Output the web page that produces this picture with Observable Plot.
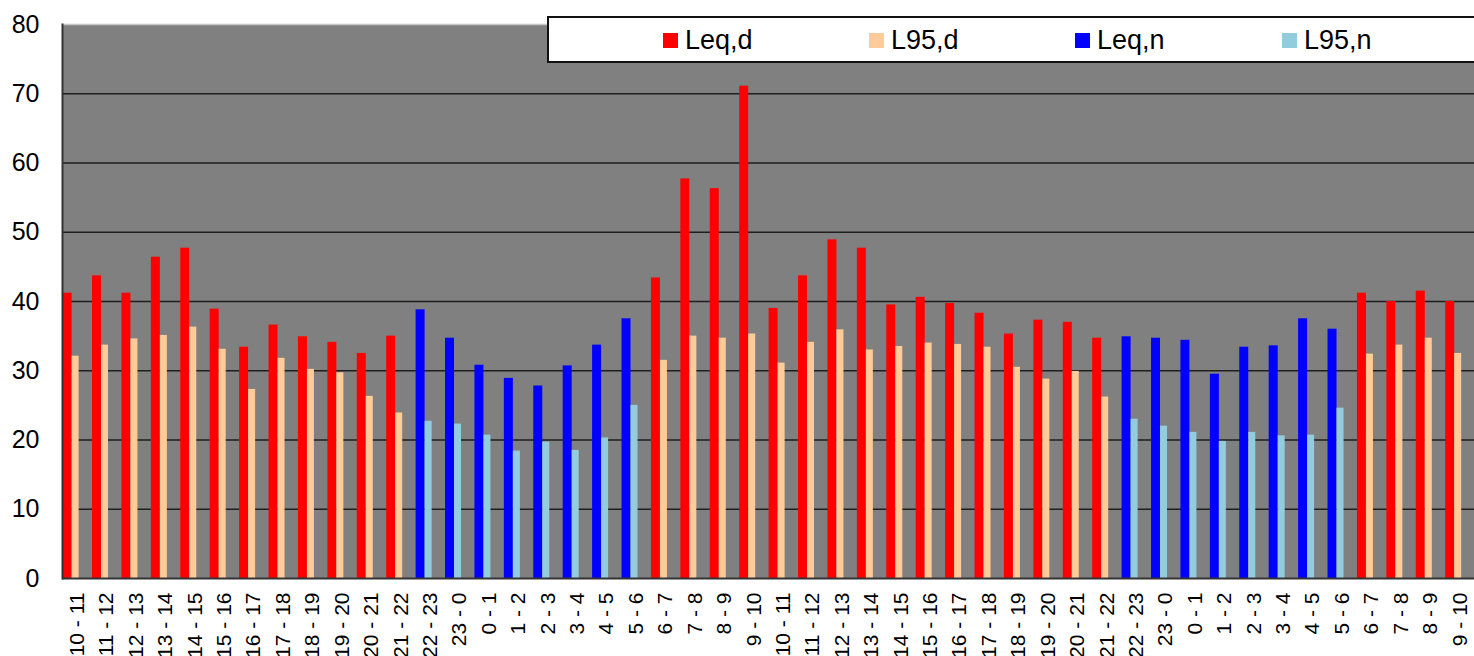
<!DOCTYPE html>
<html>
<head>
<meta charset="utf-8">
<script src="https://cdn.jsdelivr.net/npm/d3@7"></script>
<script src="https://cdn.jsdelivr.net/npm/@observablehq/plot@0.6"></script>
<style>
  html, body { margin: 0; padding: 0; background: #fff; overflow: hidden; }
  #wrap { position: relative; width: 1474px; height: 656px; overflow: hidden; font-family: "Liberation Sans", Arial, sans-serif; }
  #legend { position: absolute; left: 547px; top: 16px; width: 960px; height: 43px; background: #fff; border: 2px solid #111; box-sizing: content-box; }
  .sw { position: absolute; top: 15px; width: 15px; height: 15px; }
  .lt { position: absolute; top: 9px; font-size: 27px; line-height: 27px; color: #000; white-space: nowrap; }
</style>
</head>
<body>
<div id="wrap"><div id="chart"></div><div id="legend"></div></div>
<script>
// ---- data ----
const labels = [
  "10 - 11","11 - 12","12 - 13","13 - 14","14 - 15","15 - 16","16 - 17","17 - 18","18 - 19","19 - 20","20 - 21","21 - 22",
  "22 - 23","23 - 0","0 - 1","1 - 2","2 - 3","3 - 4","4 - 5","5 - 6",
  "6 - 7","7 - 8","8 - 9","9 - 10","10 - 11","11 - 12","12 - 13","13 - 14","14 - 15","15 - 16","16 - 17","17 - 18","18 - 19","19 - 20","20 - 21","21 - 22",
  "22 - 23","23 - 0","0 - 1","1 - 2","2 - 3","3 - 4","4 - 5","5 - 6",
  "6 - 7","7 - 8","8 - 9","9 - 10"
];
const period = [
  "d","d","d","d","d","d","d","d","d","d","d","d",
  "n","n","n","n","n","n","n","n",
  "d","d","d","d","d","d","d","d","d","d","d","d","d","d","d","d",
  "n","n","n","n","n","n","n","n",
  "d","d","d","d"
];
const leq = [
  41.2, 43.7, 41.2, 46.4, 47.7, 38.9, 33.4, 36.6, 34.9, 34.1, 32.5, 35.0,
  38.8, 34.7, 30.8, 28.9, 27.8, 30.7, 33.7, 37.5,
  43.4, 57.7, 56.3, 71.1, 39.0, 43.7, 48.9, 47.7, 39.5, 40.6, 39.7, 38.3, 35.3, 37.3, 37.0, 34.7,
  34.9, 34.7, 34.4, 29.5, 33.4, 33.6, 37.5, 36.0,
  41.2, 40.0, 41.5, 40.0
];
const l95 = [
  32.1, 33.7, 34.6, 35.1, 36.3, 33.1, 27.3, 31.8, 30.2, 29.7, 26.3, 23.9,
  22.7, 22.3, 20.7, 18.4, 19.7, 18.5, 20.3, 25.0,
  31.5, 35.0, 34.7, 35.3, 31.1, 34.1, 35.9, 33.0, 33.5, 34.0, 33.8, 33.4, 30.5, 28.8, 29.9, 26.2,
  23.0, 22.0, 21.1, 19.8, 21.1, 20.6, 20.7, 24.6,
  32.4, 33.7, 34.7, 32.5
];
const seriesNames = ["Leq,d", "L95,d", "Leq,n", "L95,n"];
const seriesColors = ["#FF0000", "#FFCC99", "#0000FF", "#93CDDD"];
const yTicks = [0, 10, 20, 30, 40, 50, 60, 70, 80];

// ---- build rows ----
const idx = d3.range(labels.length);
const leqRows = idx.map(i => ({i, v: leq[i], s: "Leq," + period[i]}));
const l95Rows = idx.map(i => ({i, v: l95[i], s: "L95," + period[i]}));

const W = 1474, H = 656, ML = 62, MR = 0, MT = 24, MB = 78;
const bw = (W - ML - MR) / labels.length;

const chart = Plot.plot({
  width: W, height: H,
  marginLeft: ML, marginRight: MR, marginTop: MT, marginBottom: MB,
  style: {fontFamily: "'Liberation Sans', Arial, sans-serif", background: "transparent", color: "#000"},
  x: {type: "band", domain: idx, padding: 0, round: false},
  y: {domain: [0, 80]},
  color: {domain: seriesNames, range: seriesColors},
  marks: [
    Plot.frame({fill: "#808080", stroke: null}),
    Plot.ruleY(yTicks.filter(t => t > 0 && t < 80), {stroke: "#1e1e1e", strokeWidth: 1.5}),
    Plot.barY(leqRows, {x: "i", y: "v", fill: "s", insetLeft: 0.6, insetRight: bw - 9.6}),
    Plot.barY(l95Rows, {x: "i", y: "v", fill: "s", insetLeft: 9.6, insetRight: bw - 16.6}),
    Plot.ruleY([80], {stroke: "#c8c8c8", strokeWidth: 1.5}),
    Plot.ruleY([0], {stroke: "#333", strokeWidth: 2}),
    Plot.frame({anchor: "left", stroke: "#333", strokeWidth: 2}),
    Plot.axisY({ticks: yTicks, tickSize: 0, tickPadding: 23, fontSize: 25, label: null}),
    Plot.axisX({tickFormat: i => labels[i], tickRotate: -90, tickSize: 0, tickPadding: 14, fontSize: 21, label: null})
  ]
});
document.getElementById("chart").appendChild(chart);

// ---- legend ----
const legend = document.getElementById("legend");
const swLeft = [663, 869, 1075, 1282];
seriesNames.forEach((name, k) => {
  const sw = document.createElement("div");
  sw.className = "sw";
  sw.style.left = (swLeft[k] - 549) + "px";
  sw.style.background = seriesColors[k];
  legend.appendChild(sw);
  const t = document.createElement("div");
  t.className = "lt";
  t.style.left = (swLeft[k] - 549 + 22) + "px";
  t.textContent = name;
  legend.appendChild(t);
});
</script>
</body>
</html>
